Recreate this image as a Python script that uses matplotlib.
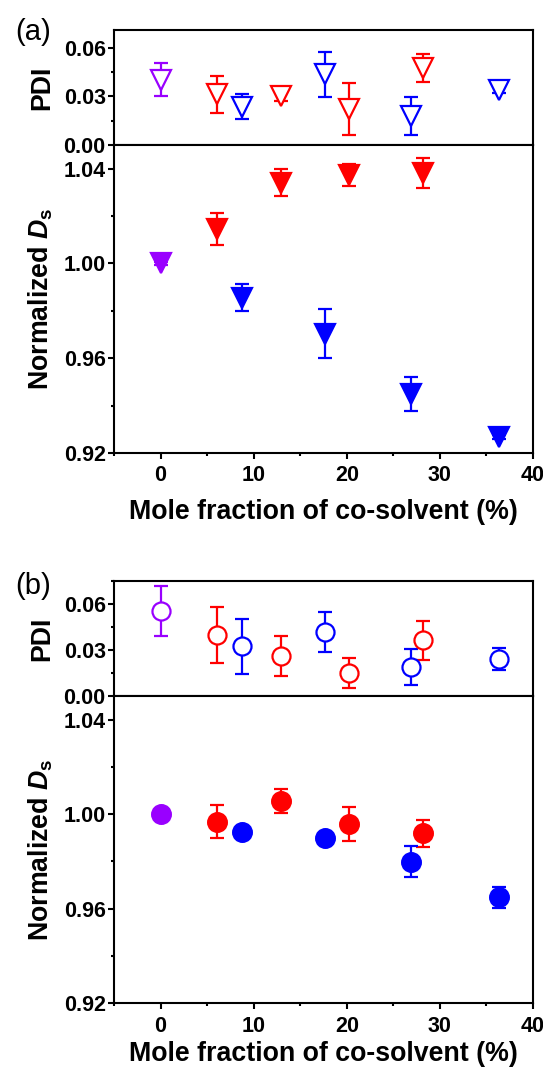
import matplotlib
matplotlib.use('Agg')
import matplotlib.pyplot as plt
from matplotlib.ticker import MultipleLocator, FormatStrFormatter

plt.rcParams['font.family'] = ['Liberation Sans', 'DejaVu Sans']
plt.rcParams['font.weight'] = 'bold'
plt.rcParams['mathtext.fontset'] = 'custom'
plt.rcParams['mathtext.rm'] = 'Liberation Sans:bold'
plt.rcParams['mathtext.it'] = 'Liberation Sans:bold:italic'
plt.rcParams['mathtext.bf'] = 'Liberation Sans:bold'

# ---------------- data ----------------
x_ref = [0.0]
x_red = [6.1, 12.9, 20.2, 28.2]
x_blue = [8.8, 17.7, 26.9, 36.4]

# panel (a)
a_pdi_ref = [0.0404]
a_pdi_ref_err = [0.0101]
a_pdi_red = [0.0312, 0.0300, 0.0222, 0.0474]
a_pdi_red_err = [0.0112, 0.0030, 0.0161, 0.0087]
a_pdi_blue = [0.0237, 0.0436, 0.0178, 0.0338]
a_pdi_blue_err = [0.0079, 0.0139, 0.0117, 0.0020]

a_ds_ref = [1.000]
a_ds_ref_err = [0.0005]
a_ds_red = [1.0145, 1.0341, 1.0373, 1.0383]
a_ds_red_err = [0.0069, 0.0056, 0.0045, 0.0063]
a_ds_blue = [0.9856, 0.9704, 0.9448, 0.9267]
a_ds_blue_err = [0.0058, 0.0102, 0.0072, 0.0010]

# panel (b)
b_pdi_ref = [0.0554]
b_pdi_ref_err = [0.0161]
b_pdi_red = [0.0399, 0.0261, 0.0150, 0.0363]
b_pdi_red_err = [0.0183, 0.0132, 0.0098, 0.0128]
b_pdi_blue = [0.0324, 0.0418, 0.0187, 0.0239]
b_pdi_blue_err = [0.0180, 0.0128, 0.0117, 0.0071]

b_ds_ref = [1.000]
b_ds_ref_err = [0.0]
b_ds_red = [0.9968, 1.0056, 0.9956, 0.9918]
b_ds_red_err = [0.0070, 0.0051, 0.0072, 0.0056]
b_ds_blue = [0.9924, 0.9899, 0.9799, 0.9647]
b_ds_blue_err = [0.0020, 0.0010, 0.0066, 0.0044]

C_REF = '#9900ff'
C_RED = '#ff0000'
C_BLUE = '#0000ff'

fig = plt.figure(figsize=(5.43, 10.69), dpi=100)

L, W = 114 / 543, (533 - 114) / 543
H = 1069.0


def rect(top, bottom):
    return [L, 1 - bottom / H, W, (bottom - top) / H]


ax_a_pdi = fig.add_axes(rect(30, 145))
ax_a_ds = fig.add_axes(rect(145, 453))
ax_b_pdi = fig.add_axes(rect(581, 696))
ax_b_ds = fig.add_axes(rect(696, 1003))

TICKFS = 15.5
LABFS = 19.3


def style(ax, is_pdi, ylim, xpad=10):
    ax.set_xlim(-5, 40)
    ax.set_ylim(*ylim)
    for s in ax.spines.values():
        s.set_linewidth(1.5)
    ax.tick_params(which='both', direction='out', width=1.5, top=False, right=False,
                   labelsize=TICKFS)
    ax.tick_params(which='major', length=4)
    ax.tick_params(which='minor', length=2.5)
    ax.tick_params(axis='y', pad=2)
    ax.tick_params(axis='x', pad=5)
    if is_pdi:
        ax.yaxis.set_major_locator(MultipleLocator(0.03))
        ax.yaxis.set_minor_locator(MultipleLocator(0.015))
        ax.yaxis.set_major_formatter(FormatStrFormatter('%.2f'))
        ax.tick_params(axis='x', which='both', bottom=False, labelbottom=False)
        ax.set_ylabel('PDI', fontsize=LABFS, fontweight='bold')
    else:
        ax.yaxis.set_major_locator(MultipleLocator(0.04))
        ax.yaxis.set_minor_locator(MultipleLocator(0.02))
        ax.yaxis.set_major_formatter(FormatStrFormatter('%.2f'))
        ax.xaxis.set_major_locator(MultipleLocator(10))
        ax.xaxis.set_minor_locator(MultipleLocator(5))
        ax.set_ylabel(r'Normalized $\mathit{D}_{\mathrm{s}}$', fontsize=LABFS,
                      fontweight='bold')
        ax.set_xlabel('Mole fraction of co-solvent (%)', fontsize=LABFS,
                      fontweight='bold', labelpad=xpad)
    for lab in ax.get_xticklabels() + ax.get_yticklabels():
        lab.set_fontweight('bold')
    ax.yaxis.set_label_coords(-0.14, 0.5)


def eb(ax, x, y, e, color, marker, ms, filled):
    ax.errorbar(x, y, yerr=e, fmt=marker, color=color, ms=ms,
                mfc=color if filled else 'white', mec=color,
                mew=1.6, elinewidth=1.6, capsize=5, capthick=1.6,
                linestyle='none', zorder=3)


# panel (a)
eb(ax_a_pdi, x_ref, a_pdi_ref, a_pdi_ref_err, C_REF, 'v', 15, False)
eb(ax_a_pdi, x_red, a_pdi_red, a_pdi_red_err, C_RED, 'v', 15, False)
eb(ax_a_pdi, x_blue, a_pdi_blue, a_pdi_blue_err, C_BLUE, 'v', 15, False)
eb(ax_a_ds, x_ref, a_ds_ref, a_ds_ref_err, C_REF, 'v', 15, True)
eb(ax_a_ds, x_red, a_ds_red, a_ds_red_err, C_RED, 'v', 15, True)
eb(ax_a_ds, x_blue, a_ds_blue, a_ds_blue_err, C_BLUE, 'v', 15, True)

# panel (b)
eb(ax_b_pdi, x_ref, b_pdi_ref, b_pdi_ref_err, C_REF, 'o', 13, False)
eb(ax_b_pdi, x_red, b_pdi_red, b_pdi_red_err, C_RED, 'o', 13, False)
eb(ax_b_pdi, x_blue, b_pdi_blue, b_pdi_blue_err, C_BLUE, 'o', 13, False)
eb(ax_b_ds, x_ref, b_ds_ref, b_ds_ref_err, C_REF, 'o', 13.5, True)
eb(ax_b_ds, x_red, b_ds_red, b_ds_red_err, C_RED, 'o', 13.5, True)
eb(ax_b_ds, x_blue, b_ds_blue, b_ds_blue_err, C_BLUE, 'o', 13.5, True)

style(ax_a_pdi, True, (0.0, 0.071))
style(ax_a_ds, False, (0.92, 1.05), xpad=9)
style(ax_b_pdi, True, (0.0, 0.075))
style(ax_b_ds, False, (0.92, 1.05), xpad=3)

fig.text(33 / 543, 1 - 32 / H, '(a)', fontsize=21, fontweight='normal',
         ha='center', va='center')
fig.text(33 / 543, 1 - 586 / H, '(b)', fontsize=21, fontweight='normal',
         ha='center', va='center')

fig.savefig('out.png', dpi=100)
